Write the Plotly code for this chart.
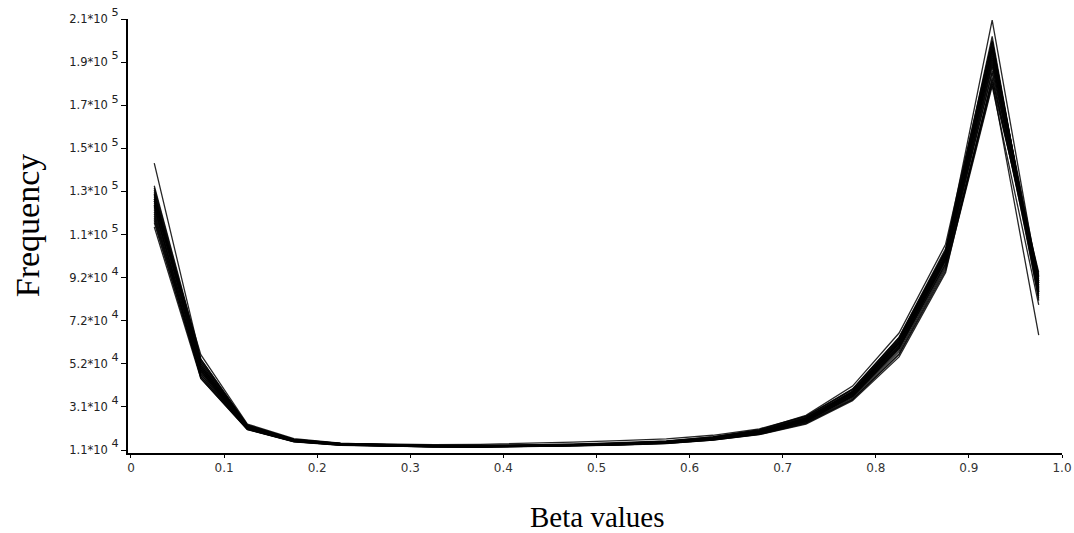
import plotly.graph_objects as go

# Histogram bin centres of the beta values (20 bins of width 0.05)
bin_centres = [0.025, 0.075, 0.125, 0.175, 0.225, 0.275, 0.325, 0.375, 0.425, 0.475,
               0.525, 0.575, 0.625, 0.675, 0.725, 0.775, 0.825, 0.875, 0.925, 0.975]

# Per-sample frequencies, in thousands of probes per bin
sample_01 = [131, 51, 22.0, 15.6, 13.7, 13.1, 12.8, 12.7, 12.9, 13.3, 13.8, 14.6, 16.3, 19.2, 25.0, 37.0, 60.0, 100, 196, 86]
sample_02 = [127, 49, 21.4, 15.3, 13.6, 13.0, 12.7, 12.6, 12.8, 13.2, 13.7, 14.5, 16.2, 19.1, 24.8, 36.5, 59.0, 99, 192, 88]
sample_03 = [124, 48, 21.2, 15.2, 13.5, 12.9, 12.6, 12.5, 12.7, 13.1, 13.6, 14.4, 16.0, 18.8, 24.2, 35.5, 57.5, 97, 186, 91]
sample_04 = [120, 47, 21.0, 15.1, 13.4, 12.9, 12.6, 12.5, 12.6, 13.0, 13.5, 14.2, 15.8, 18.5, 23.8, 35.0, 56.5, 96, 182, 93]
sample_05 = [116, 45, 20.6, 14.9, 13.3, 12.8, 12.5, 12.4, 12.5, 12.9, 13.4, 14.1, 15.7, 18.3, 23.5, 34.5, 55.5, 95, 180, 92]
sample_06 = [129, 52, 22.3, 15.8, 13.9, 13.3, 13.0, 12.9, 13.1, 13.5, 14.1, 14.9, 16.7, 19.8, 25.8, 38.0, 61.5, 102, 199, 84]
sample_07 = [133, 53, 22.6, 15.9, 14.0, 13.4, 13.1, 13.0, 13.2, 13.7, 14.2, 15.1, 16.9, 20.1, 26.2, 38.8, 62.5, 103, 202, 82]
sample_08 = [126, 50, 21.8, 15.5, 13.7, 13.1, 12.8, 12.7, 12.9, 13.3, 13.9, 14.7, 16.4, 19.4, 25.3, 37.4, 60.5, 101, 195, 85]
sample_09 = [122, 49, 21.5, 15.4, 13.6, 13.0, 12.7, 12.6, 12.8, 13.2, 13.8, 14.6, 16.3, 19.3, 25.1, 37.1, 60.2, 100, 193, 83]
sample_10 = [118, 47, 21.1, 15.2, 13.5, 12.9, 12.7, 12.6, 12.8, 13.2, 13.8, 14.6, 16.4, 19.5, 25.6, 38.0, 61.8, 102, 197, 80]
sample_11 = [125, 51, 22.1, 15.7, 13.8, 13.2, 12.9, 12.8, 13.0, 13.4, 14.0, 14.8, 16.6, 19.7, 25.7, 37.8, 61.0, 101, 198, 87]
sample_12 = [130, 48, 21.3, 15.3, 13.6, 13.0, 12.7, 12.6, 12.8, 13.2, 13.7, 14.5, 16.2, 19.0, 24.7, 36.6, 59.4, 99, 190, 90]
sample_13 = [121, 46, 20.8, 15.0, 13.4, 12.9, 12.6, 12.5, 12.7, 13.1, 13.6, 14.3, 15.9, 18.7, 24.1, 35.7, 58.0, 98, 188, 89]
sample_14 = [114, 44, 20.4, 14.8, 13.2, 12.7, 12.4, 12.3, 12.5, 12.9, 13.3, 14.0, 15.6, 18.2, 23.3, 34.2, 55.0, 94, 179, 78]
sample_15 = [143.5, 53, 22.4, 15.8, 13.9, 13.3, 13.0, 12.9, 13.0, 13.4, 13.9, 14.6, 16.2, 18.9, 24.4, 36.0, 58.5, 99, 185, 84]
sample_16 = [126, 50, 21.7, 15.5, 13.7, 13.1, 12.8, 12.7, 12.9, 13.3, 13.9, 14.7, 16.5, 19.6, 25.6, 38.2, 62.0, 103, 209.5, 88]
sample_17 = [123, 48, 21.3, 15.4, 13.6, 13.0, 12.7, 12.6, 12.8, 13.2, 13.7, 14.4, 16.0, 18.8, 24.3, 35.8, 58.0, 97, 181, 64]
sample_18 = [119, 46, 21.0, 15.4, 14.0, 13.6, 13.5, 13.6, 14.0, 14.6, 15.3, 16.1, 17.8, 20.8, 26.6, 39.0, 63.0, 104, 191, 86]
sample_19 = [128, 50, 21.9, 15.6, 13.8, 13.2, 12.9, 12.8, 13.0, 13.5, 14.1, 15.0, 17.0, 20.4, 27.0, 40.5, 65.0, 106, 200, 84]
sample_20 = [132, 52, 22.5, 15.9, 14.0, 13.3, 13.0, 12.9, 13.1, 13.5, 14.0, 14.8, 16.5, 19.5, 25.4, 37.6, 60.8, 101, 194, 89]
sample_21 = [117, 45, 20.7, 15.0, 13.4, 12.8, 12.5, 12.4, 12.6, 13.0, 13.5, 14.3, 16.0, 18.9, 24.6, 36.3, 59.0, 99, 189, 81]
sample_22 = [127, 55, 23.0, 16.2, 14.2, 13.5, 13.2, 13.1, 13.3, 13.7, 14.3, 15.2, 17.1, 20.3, 26.5, 39.2, 63.0, 103, 200, 85]
sample_23 = [124, 44, 20.5, 14.9, 13.3, 12.8, 12.5, 12.4, 12.6, 13.0, 13.4, 14.1, 15.6, 18.1, 23.0, 33.8, 54.0, 93, 183, 87]
sample_24 = [129, 49, 21.6, 15.4, 13.6, 13.0, 12.7, 12.6, 12.8, 13.2, 13.8, 14.6, 16.3, 19.3, 25.2, 37.2, 60.3, 100, 196, 91]

samples = [sample_01, sample_02, sample_03, sample_04, sample_05, sample_06, sample_07, sample_08,
           sample_09, sample_10, sample_11, sample_12, sample_13, sample_14, sample_15, sample_16,
           sample_17, sample_18, sample_19, sample_20, sample_21, sample_22, sample_23, sample_24]

# Y axis ticks (counts) and their labels
y_tick_values = [11000, 30900, 50800, 70700, 90600, 110500, 130400, 150300, 170200, 190100, 210000]
y_tick_labels = ["1.1*10", "3.1*10", "5.2*10", "7.2*10", "9.2*10", "1.1*10",
                 "1.3*10", "1.5*10", "1.7*10", "1.9*10", "2.1*10"]
y_tick_powers = ["4", "4", "4", "4", "4", "5", "5", "5", "5", "5", "5"]

x_tick_values = [0, 0.1, 0.2, 0.3, 0.4, 0.5, 0.6, 0.7, 0.8, 0.9, 1.0]
x_tick_labels = ["0", "0.1", "0.2", "0.3", "0.4", "0.5", "0.6", "0.7", "0.8", "0.9", "1.0"]

fig = go.Figure()
for values in samples:
    fig.add_trace(go.Scatter(
        x=bin_centres,
        y=[v * 1000 for v in values],
        mode="lines",
        line=dict(color="rgba(0,0,0,0.85)", width=1.3),
        showlegend=False,
        hoverinfo="skip",
    ))

# exponent kept close to the size of the mantissa
tick_text = [
    f'{base} <span style="font-size:16px"><sup>{p}</sup></span>'
    for base, p in zip(y_tick_labels, y_tick_powers)
]

fig.update_layout(
    width=1074,
    height=533,
    margin=dict(l=128, r=12, t=19, b=80),
    paper_bgcolor="white",
    plot_bgcolor="white",
    font=dict(family="DejaVu Sans, sans-serif", size=12, color="#222"),
    xaxis=dict(
        range=[-0.0032, 1.0],
        tickvals=x_tick_values,
        ticktext=x_tick_labels,
        automargin=False,
        showgrid=False,
        zeroline=False,
        showline=True,
        linecolor="black",
        linewidth=2,
        ticks="outside",
        ticklen=3,
        tickcolor="black",
        tickfont=dict(family="DejaVu Sans, sans-serif", size=12, color="#333"),
    ),
    yaxis=dict(
        range=[9615, 210000],
        tickvals=y_tick_values,
        ticktext=tick_text,
        automargin=False,
        showgrid=False,
        zeroline=False,
        showline=True,
        linecolor="black",
        linewidth=2,
        ticks="outside",
        ticklen=5,
        tickcolor="black",
        tickfont=dict(family="DejaVu Sans, sans-serif", size=11.5, color="#222"),
    ),
    annotations=[
        dict(text="Beta values", xref="paper", yref="paper", x=0.502, y=-0.147,
             xanchor="center", yanchor="middle", showarrow=False,
             font=dict(family="Liberation Serif, serif", size=29, color="black")),
        dict(text="Frequency", xref="paper", yref="paper", x=-0.108, y=0.525,
             xanchor="center", yanchor="middle", textangle=-90, showarrow=False,
             font=dict(family="Liberation Serif, serif", size=34, color="black")),
    ],
)

fig.write_html("out.html")
